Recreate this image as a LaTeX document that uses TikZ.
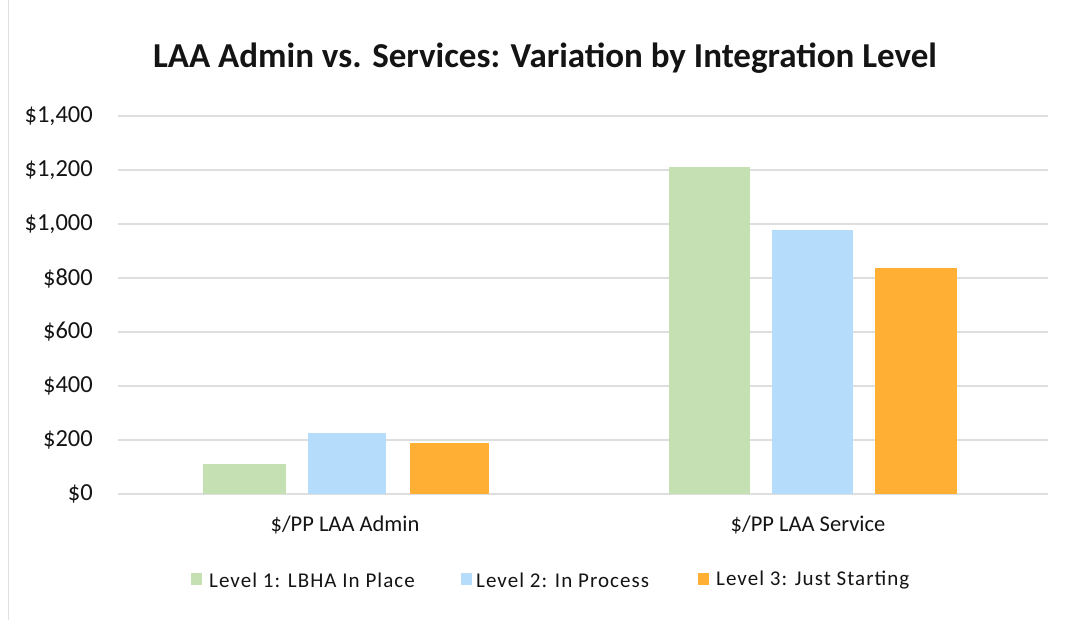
\documentclass[tikz,border=0pt]{standalone}
\usepackage{fontspec}
\setmainfont{Carlito}
\newfontfamily\legfont[LetterSpace=5]{Carlito}
\definecolor{gridc}{RGB}{222,222,222}
\definecolor{lvA}{RGB}{197,225,180}
\definecolor{lvB}{RGB}{182,220,251}
\definecolor{lvC}{RGB}{255,176,52}
\definecolor{txt}{RGB}{20,20,20}
\tikzset{
  grid line/.style={draw=gridc, line width=1.2pt},
  tick label/.style={anchor=east, font=\fontsize{24.5}{28}\selectfont, text=txt, inner sep=0pt},
  cat label/.style={anchor=center, font=\fontsize{22.5}{26}\selectfont, text=txt, inner sep=0pt},
  legend text/.style={anchor=west, font=\legfont\fontsize{21}{24}\selectfont, text=txt, inner sep=0pt},
  legend key/.style={minimum width=11pt, minimum height=12pt, inner sep=0pt},
}
\begin{document}
\begin{tikzpicture}[x=1pt,y=-1pt]
\useasboundingbox[fill=white] (0,0) rectangle (1070,620);
\draw[draw=black!12, line width=1pt] (8,0) -- (8,620);
% title
\node[font=\bfseries\fontsize{35}{40}\selectfont, text=txt, inner sep=0pt] (title) at (545,58) {LAA Admin vs. Services: Variation by Integration Level};
% grid and ticks
\foreach \v/\lab in {0/\$0,200/\$200,400/\$400,600/\$600,800/\$800,1000/{\$1,000},1200/{\$1,200},1400/{\$1,400}}{
  \draw[grid line] (118,{494-\v*0.27}) -- (1048,{494-\v*0.27});
  \node[tick label] (t\v) at (93,{494-\v*0.27}) {\lab};
}
% bars admin
\fill[lvA] (203,494) rectangle (286,464);
\fill[lvB] (308,494) rectangle (386,433);
\fill[lvC] (410,494) rectangle (489,443);
% bars service
\fill[lvA] (669,494) rectangle (750,167);
\fill[lvB] (772,494) rectangle (853,230);
\fill[lvC] (875,494) rectangle (957,268);
% category labels
\node[cat label] (c1) at (345,525) {\$/PP LAA Admin};
\node[cat label] (c2) at (808,525) {\$/PP LAA Service};
% legend
\node[legend key, fill=lvA] (k1) at (196,579) {};
\node[legend text] (l1) at (209,580) {Level 1: LBHA In Place};
\node[legend key, fill=lvB] (k2) at (466,579) {};
\node[legend text] (l2) at (476,580) {Level 2: In Process};
\node[legend key, fill=lvC] (k3) at (703,579) {};
\node[legend text] (l3) at (716,580) {Level 3: Just Starting};
\end{tikzpicture}
\end{document}
